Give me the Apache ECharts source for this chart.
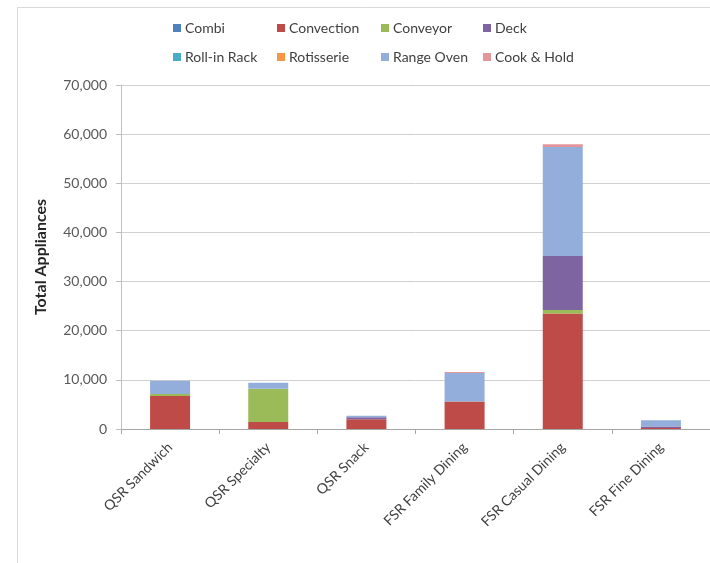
<!DOCTYPE html>
<html>
<head>
<meta charset="utf-8">
<script src="https://cdn.jsdelivr.net/npm/echarts@6/dist/echarts.min.js"></script>
<style>
  html, body { margin: 0; padding: 0; background: #fff; }
  #chart { width: 710px; height: 563px; }
</style>
</head>
<body>
<div id="chart"></div>
<script>
// Restaurant segments along the x axis
const categories = ['QSR Sandwich', 'QSR Specialty', 'QSR Snack', 'FSR Family Dining', 'FSR Casual Dining', 'FSR Fine Dining'];

// Appliance counts per segment, one array per oven type (stack order bottom to top)
const combi      = [0, 0, 0, 0, 0, 0];
const convection = [6700, 1400, 2000, 5600, 23500, 200];
const conveyor   = [400, 6800, 0, 0, 700, 0];
const deck       = [0, 0, 400, 0, 11000, 300];
const rollInRack = [0, 0, 0, 0, 0, 0];
const rotisserie = [0, 0, 0, 0, 0, 0];
const rangeOven  = [2700, 1200, 300, 5800, 22200, 1300];
const cookHold   = [0, 0, 0, 200, 550, 0];

// Y axis ticks
const yTicks = [0, 10000, 20000, 30000, 40000, 50000, 60000, 70000];

const seriesNames = ['Combi', 'Convection', 'Conveyor', 'Deck', 'Roll-in Rack', 'Rotisserie', 'Range Oven', 'Cook & Hold'];
const seriesData = [combi, convection, conveyor, deck, rollInRack, rotisserie, rangeOven, cookHold];
const colors = ['#4F81BD', '#BE4B48', '#9BBB59', '#7F64A2', '#4BACC6', '#F79646', '#93AEDA', '#E2959A'];

const FONT = 'Lato, "Open Sans", sans-serif';
const TEXT = '#404040';

// Legend: two rows of four, each entry placed on a fixed column
const legendCols = [168, 272, 376, 478];
const legendRows = [16, 45];
const legends = seriesNames.map((name, i) => ({
  data: [name],
  left: legendCols[i % 4],
  top: legendRows[Math.floor(i / 4)],
  itemWidth: 8,
  itemHeight: 8,
  icon: 'rect',
  itemGap: 0,
  textStyle: { color: TEXT, fontSize: 14, fontFamily: FONT, padding: [0, 0, 0, -1] },
  selectedMode: false
}));

const chart = echarts.init(document.getElementById('chart'));
chart.setOption({
  backgroundColor: '#ffffff',
  animation: false,
  color: colors,
  legend: legends,
  graphic: [
    { type: 'line', shape: { x1: 17.5, y1: 7.5, x2: 710, y2: 7.5 }, style: { stroke: '#d9d9d9', lineWidth: 1 }, silent: true },
    { type: 'line', shape: { x1: 17.5, y1: 7.5, x2: 17.5, y2: 563 }, style: { stroke: '#d9d9d9', lineWidth: 1 }, silent: true }
  ],
  grid: { left: 121, right: -5, top: 85, bottom: 134 },
  xAxis: {
    type: 'category',
    data: categories,
    axisLine: { show: true, lineStyle: { color: '#a6a6a6' } },
    axisTick: { show: true, alignWithLabel: false, length: 5, lineStyle: { color: '#a6a6a6' } },
    axisLabel: { rotate: 45, color: TEXT, fontSize: 14, fontFamily: FONT, margin: 16, interval: 0 }
  },
  yAxis: {
    type: 'value',
    min: yTicks[0],
    max: yTicks[yTicks.length - 1],
    interval: yTicks[1] - yTicks[0],
    name: 'Total Appliances',
    nameLocation: 'middle',
    nameGap: 72,
    nameRotate: 90,
    nameTextStyle: { color: '#262626', fontSize: 16, fontWeight: 'bold', fontFamily: FONT },
    axisLine: { show: true, lineStyle: { color: '#bfbfbf' } },
    axisTick: { show: true, inside: false, length: 5, lineStyle: { color: '#bfbfbf' } },
    axisLabel: {
      color: '#595959', fontSize: 14, fontFamily: FONT, margin: 14,
      formatter: v => v.toString().replace(/\B(?=(\d{3})+(?!\d))/g, ',')
    },
    splitLine: { show: true, lineStyle: { color: '#d0d0d0' } }
  },
  series: seriesNames.map((name, i) => ({
    name: name,
    type: 'bar',
    stack: 'total',
    barWidth: 40,
    data: seriesData[i],
    itemStyle: { color: colors[i] }
  }))
});
</script>
</body>
</html>
